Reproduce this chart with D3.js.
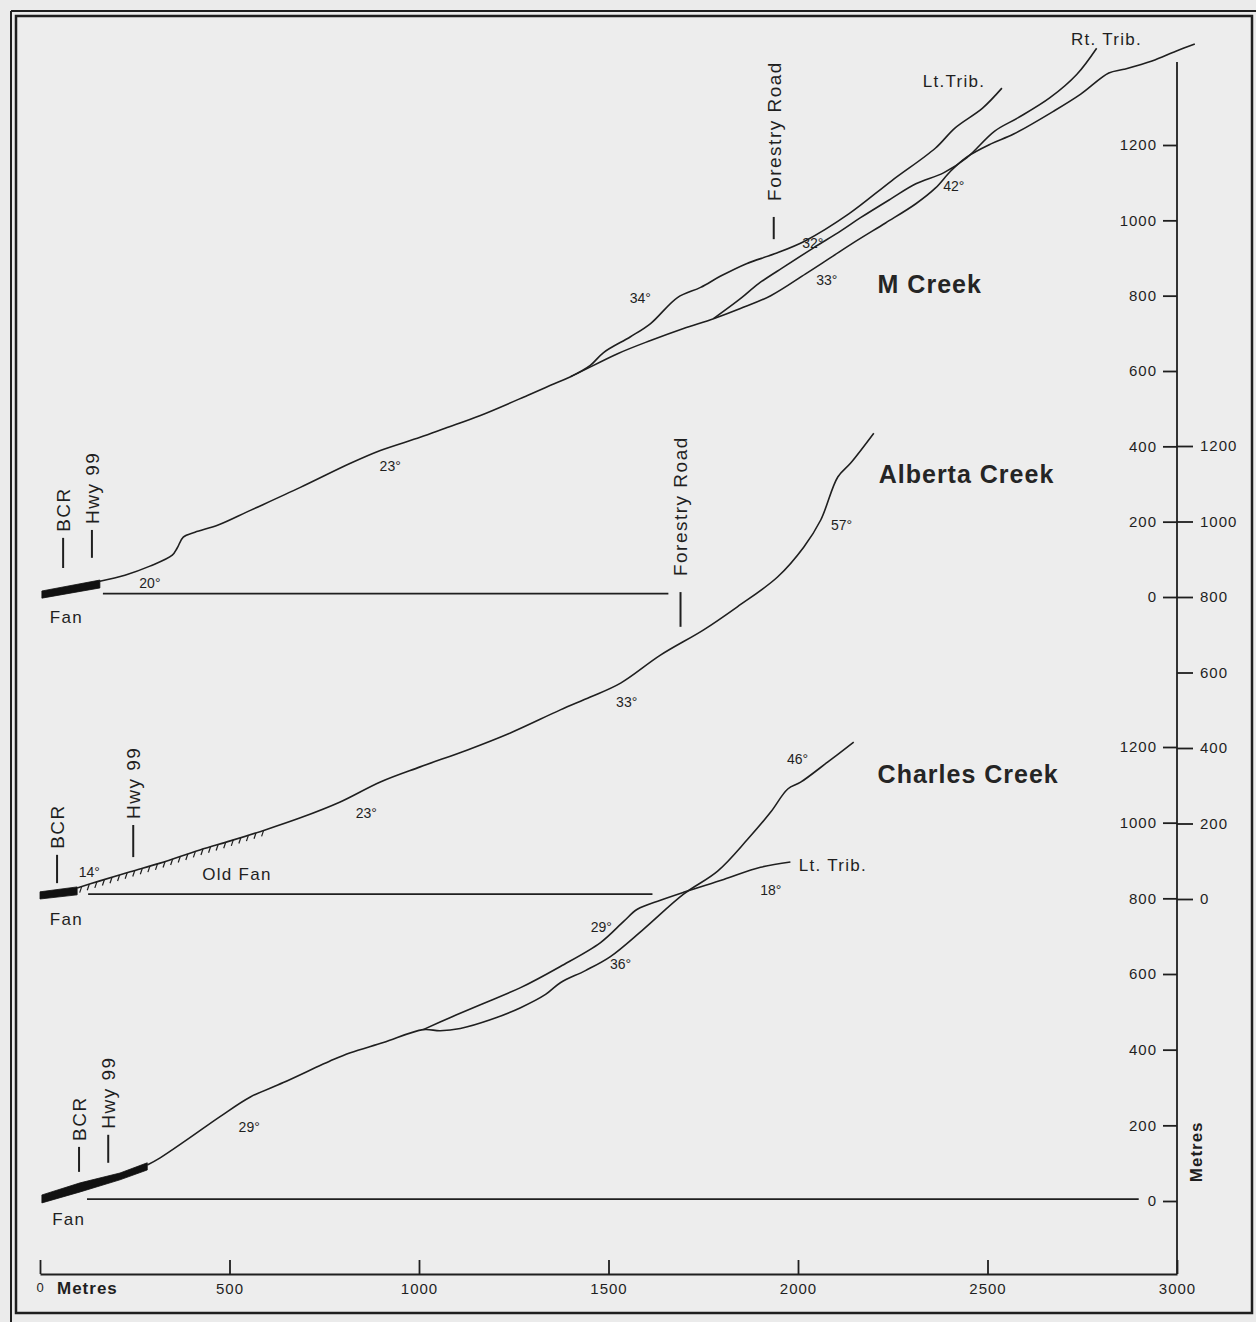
<!DOCTYPE html>
<html lang="en">
<head>
<meta charset="UTF-8" />
<title>Longitudinal profiles - M, Alberta and Charles Creeks</title>
<script src="https://d3js.org/d3.v7.min.js"></script>
<style>
  body { margin: 0; background: #ebebeb; }
  svg { display: block; font-family: "Liberation Sans", Arial, Helvetica, sans-serif; }
</style>
</head>
<body>
<svg id="chart" width="1256" height="1322"></svg>
<script>
// horizontal distance ticks (m) and elevation ticks (m)
const distTicks = [0, 500, 1000, 1500, 2000, 2500, 3000];
const elevTicks = [0, 200, 400, 600, 800, 1000, 1200];

// ---- M Creek: [distance m, elevation m]
const mMain = [[158,42],[224,58],[290,82],[349,111],[362,130],[378,159],[409,172],[470,191],[555,230],
  [687,291],[819,355],[898,389],[1003,424],[1069,448],[1162,482],[1286,535],[1347,562],[1400,585],
  [1524,646],[1611,681],[1698,713],[1777,739],[1848,766],[1928,800],[2020,858],[2086,901],[2155,946],
  [2231,993],[2311,1044],[2363,1086],[2403,1131],[2445,1168],[2509,1203],[2569,1229],[2675,1290],
  [2746,1335],[2820,1391],[2860,1401],[2934,1423],[2997,1449],[3047,1468]];
const mLtTrib = [[1400,585],[1452,615],[1487,649],[1558,691],[1611,726],[1682,795],[1743,822],[1796,852],
  [1864,885],[1938,911],[2020,946],[2134,1017],[2247,1105],[2363,1192],[2414,1245],[2487,1298],[2538,1351]];
const mRtTrib = [[1777,739],[1848,792],[1896,832],[1967,879],[2041,927],[2113,972],[2165,1007],[2245,1057],
  [2311,1097],[2384,1126],[2445,1166],[2519,1237],[2580,1272],[2664,1325],[2736,1388],[2788,1457]];
const mFan = [[5,16,-3],[158,45,24]];            // distance, top, bottom
const mDatum = [[166,9],[1658,9]];
const mMarkers = [["BCR",61,77,157],["Hwy 99",137,104,178],["Forestry Road",1936,950,1009]];
const mSlopes = [["20°",290,24],["23°",924,334],["34°",1584,780],["32°",2039,926],["33°",2076,828],["42°",2411,1078]];
const mLabels = [["Fan",26,-69],["Lt.Trib.",2329,1354],["Rt. Trib.",2720,1465]];

// ---- Alberta Creek
const aMain = [[98,29],[158,48],[238,72],[317,95],[422,130],[502,154],[594,183],[687,215],[792,257],
  [898,310],[1003,350],[1128,395],[1241,440],[1373,501],[1452,535],[1532,572],[1637,646],[1751,713],
  [1840,774],[1946,853],[2015,932],[2060,1004],[2105,1118],[2139,1155],[2200,1234]];
const aFan = [[0,19,0],[98,32,11]];
const aOldFan = [110, 594];                      // hatched reach, distance m
const aDatum = [[127,13],[1616,13]];
const aMarkers = [["BCR",45,42,117],["Hwy 99",246,111,196],["Forestry Road",1690,721,813]];
const aSlopes = [["14°",130,58],["23°",861,215],["33°",1548,509],["57°",2115,978]];
const aLabels = [["Fan",26,-69],["Old Fan",428,50]];

// ---- Charles Creek
const cMain = [[283,95],[317,114],[388,162],[475,223],[555,275],[642,313],[774,374],[819,392],[906,419],
  [1011,453],[1056,450],[1109,456],[1188,479],[1268,511],[1334,546],[1373,577],[1439,609],[1505,646],
  [1592,718],[1698,811],[1788,872],[1867,956],[1928,1028],[1973,1089],[2007,1107],[2078,1160],[2147,1213]];
const cLtTrib = [[1011,453],[1083,485],[1162,519],[1268,564],[1373,620],[1479,683],[1540,739],[1576,771],
  [1637,795],[1698,816],[1804,850],[1901,882],[1980,896]];
const cFan = [[5,16,-5],[106,48,24],[211,74,56],[283,101,82]];
const cDatum = [[124,5],[2899,5]];
const cMarkers = [["BCR",103,77,143],["Hwy 99",180,101,175]];
const cSlopes = [["29°",552,183],["29°",1481,710],["36°",1532,612],["18°",1928,810],["46°",1999,1155]];
const cLabels = [["Fan",32,-64],["Lt. Trib.",2002,871]];

const creekNames = [["M Creek",2210,807],["Alberta Creek",2213,1102],["Charles Creek",2210,1105]];

const ink = "#1f1f1f";
const svg = d3.select("#chart");

// frame
svg.append("line").attr("x1", 11).attr("y1", 11).attr("x2", 11).attr("y2", 1322)
  .attr("stroke", ink).attr("stroke-width", 2);
svg.append("line").attr("x1", 11).attr("y1", 11).attr("x2", 1256).attr("y2", 11)
  .attr("stroke", ink).attr("stroke-width", 2);
svg.append("rect").attr("x", 16).attr("y", 16).attr("width", 1236).attr("height", 1297)
  .attr("fill", "#ededed").attr("stroke", ink).attr("stroke-width", 2.5);

const x = d3.scaleLinear().domain([0, 3000]).range([40, 1177]);
const yM = d3.scaleLinear().domain([0, 1200]).range([597, 145]);
const yA = d3.scaleLinear().domain([0, 1200]).range([899, 446]);
const yC = d3.scaleLinear().domain([0, 1200]).range([1201, 747]);

const axisX = x(3000);
const axisY = 1274;
const fmt = d3.format("d");

// bottom axis
const gx = svg.append("g")
  .attr("transform", `translate(0,${axisY})`)
  .call(d3.axisBottom(x).tickValues(distTicks).tickFormat(fmt)
    .tickSize(-14).tickSizeOuter(0).tickPadding(9));
gx.select(".domain").attr("stroke", ink).attr("stroke-width", 1.8);
gx.selectAll(".tick line").attr("stroke", ink).attr("stroke-width", 1.8);
gx.selectAll(".tick text").attr("font-size", 15).attr("font-family", null)
  .attr("fill", ink).attr("letter-spacing", 1)
  .filter(d => d === 0).attr("font-size", 13);
svg.append("text").attr("x", x(0) + 17).attr("y", axisY + 20)
  .attr("font-size", 17).attr("font-weight", "bold").attr("letter-spacing", 1)
  .attr("fill", ink).text("Metres");

// vertical scale bar
svg.append("line").attr("x1", axisX).attr("x2", axisX).attr("y1", 62).attr("y2", axisY)
  .attr("stroke", ink).attr("stroke-width", 1.8);

function styleAxis(g) {
  g.select(".domain").remove();
  g.selectAll(".tick line").attr("stroke", ink).attr("stroke-width", 1.8);
  g.selectAll(".tick text").attr("font-size", 15).attr("font-family", null)
    .attr("fill", ink).attr("letter-spacing", 1);
}
svg.append("g").attr("transform", `translate(${axisX},0)`)
  .call(d3.axisLeft(yM).tickValues(elevTicks).tickFormat(fmt).tickSize(14).tickPadding(6)).call(styleAxis);
svg.append("g").attr("transform", `translate(${axisX},0)`)
  .call(d3.axisRight(yA).tickValues(elevTicks).tickFormat(fmt).tickSize(16).tickPadding(7)).call(styleAxis);
svg.append("g").attr("transform", `translate(${axisX},0)`)
  .call(d3.axisLeft(yC).tickValues(elevTicks).tickFormat(fmt).tickSize(14).tickPadding(6)).call(styleAxis);

svg.append("text")
  .attr("transform", `translate(${axisX + 19},${yC(130)}) rotate(-90)`)
  .attr("text-anchor", "middle").attr("dy", "0.35em")
  .attr("font-size", 17).attr("font-weight", "bold").attr("letter-spacing", 1)
  .attr("fill", ink).text("Metres");

function drawCreek(y, cfg) {
  const g = svg.append("g");
  const line = d3.line().x(d => x(d[0])).y(d => y(d[1])).curve(d3.curveCatmullRom.alpha(0.5));

  // datum line
  g.append("path").attr("d", d3.line().x(d => x(d[0])).y(d => y(d[1]))(cfg.datum))
    .attr("fill", "none").attr("stroke", ink).attr("stroke-width", 1.6);

  // fan deposit
  const fan = d3.area().x(d => x(d[0])).y0(d => y(d[2])).y1(d => y(d[1]));
  g.append("path").attr("d", fan(cfg.fan)).attr("fill", "#111").attr("stroke", "#111").attr("stroke-width", 0.8);

  // profiles
  cfg.lines.forEach(p => {
    g.append("path").attr("d", line(p)).attr("fill", "none")
      .attr("stroke", ink).attr("stroke-width", 1.6).attr("stroke-linejoin", "round");
  });

  // markers (BCR, Hwy 99, Forestry Road)
  cfg.markers.forEach(([label, d, lo, hi]) => {
    g.append("line").attr("x1", x(d)).attr("x2", x(d)).attr("y1", y(lo)).attr("y2", y(hi))
      .attr("stroke", ink).attr("stroke-width", 2);
    const gap = label.length > 8 ? 16 : 6;
    g.append("text")
      .attr("transform", `translate(${x(d)},${y(hi) - gap}) rotate(-90)`)
      .attr("dy", "0.36em").attr("font-size", 19).attr("letter-spacing", 1.5)
      .attr("fill", ink).text(label);
  });

  // slope angles
  cfg.slopes.forEach(([t, d, e]) => {
    g.append("text").attr("x", x(d)).attr("y", y(e)).attr("text-anchor", "middle")
      .attr("font-size", 14).attr("fill", ink).text(t);
  });

  // other labels
  cfg.labels.forEach(([t, d, e]) => {
    g.append("text").attr("x", x(d)).attr("y", y(e))
      .attr("font-size", 17).attr("letter-spacing", 1.3).attr("fill", ink).text(t);
  });

  const [name, nd, ne] = cfg.name;
  g.append("text").attr("x", x(nd)).attr("y", y(ne))
    .attr("font-size", 25).attr("font-weight", "bold").attr("letter-spacing", 1)
    .attr("fill", "#252525").text(name);
  return g;
}

drawCreek(yM, { lines: [mMain, mLtTrib, mRtTrib], fan: mFan, datum: mDatum,
  markers: mMarkers, slopes: mSlopes, labels: mLabels, name: creekNames[0] });
const ga = drawCreek(yA, { lines: [aMain], fan: aFan, datum: aDatum,
  markers: aMarkers, slopes: aSlopes, labels: aLabels, name: creekNames[1] });
drawCreek(yC, { lines: [cMain, cLtTrib], fan: cFan, datum: cDatum,
  markers: cMarkers, slopes: cSlopes, labels: cLabels, name: creekNames[2] });

// hatching under the old fan surface on Alberta Creek
const aElev = d3.scaleLinear().domain(aMain.map(d => d[0])).range(aMain.map(d => d[1]));
ga.selectAll("line.hatch")
  .data(d3.range(aOldFan[0], aOldFan[1], 20))
  .enter().append("line")
  .attr("class", "hatch")
  .attr("x1", d => x(d)).attr("y1", d => yA(aElev(d)))
  .attr("x2", d => x(d) - 2).attr("y2", d => yA(aElev(d)) + 6)
  .attr("stroke", ink).attr("stroke-width", 1.2);
</script>
</body>
</html>
